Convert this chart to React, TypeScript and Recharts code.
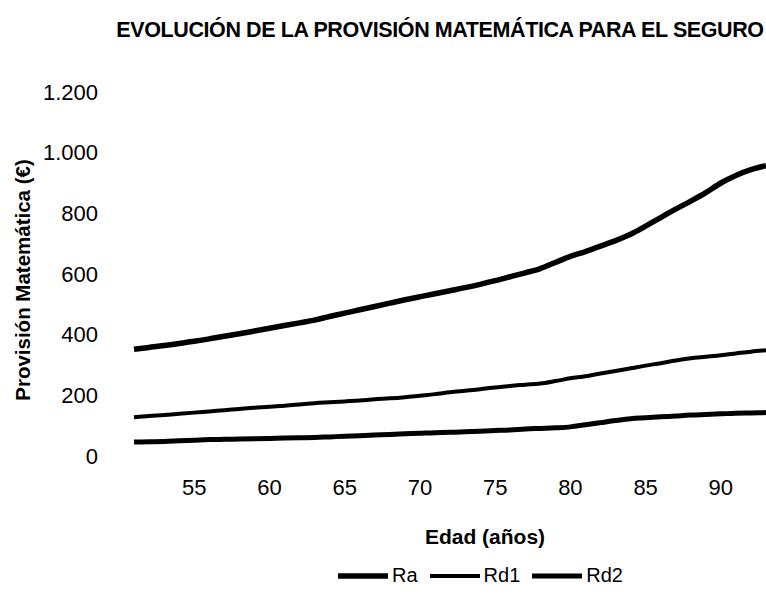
import React from "react";
import { LineChart, Line, XAxis, YAxis } from "recharts";

const edades = [
  51, 52, 53, 54, 55, 56, 57, 58, 59, 60, 61, 62, 63, 64, 65, 66, 67, 68, 69, 70, 71, 72,
  73, 74, 75, 76, 77, 78, 79, 80, 81, 82, 83, 84, 85, 86, 87, 88, 89, 90, 91, 92, 93,
];

const ra = [
  352, 358, 364, 371, 378, 386, 395, 403, 412, 421, 430, 439, 448, 460, 471, 482, 493, 504,
  515, 525, 535, 545, 555, 566, 578, 591, 604, 618, 638, 658, 674, 692, 710, 731, 758, 786,
  814, 840, 868, 900, 925, 944, 957,
];

const rd1 = [
  128, 132, 135, 139, 143, 147, 151, 155, 159, 162, 166, 170, 174, 177, 180, 183, 187, 190,
  194, 199, 204, 210, 215, 220, 226, 231, 235, 239, 247, 256, 263, 272, 280, 289, 298, 306,
  315, 322, 327, 332, 338, 344, 349,
];

const rd2 = [
  46, 47, 48, 50, 52, 54, 55, 56, 57, 58, 59, 60, 61, 63, 65, 67, 69, 71, 73, 75, 77, 78, 80,
  82, 84, 86, 89, 91, 93, 96, 103, 110, 117, 123, 126, 129, 132, 135, 137, 139, 141, 142, 143,
];

const ticksX = [55, 60, 65, 70, 75, 80, 85, 90];
const ticksY = [0, 200, 400, 600, 800, 1000, 1200];

const data = edades.map((edad, i) => ({ edad, Ra: ra[i], Rd1: rd1[i], Rd2: rd2[i] }));

const FONT = "'Liberation Sans', Arial, sans-serif";

const series = [
  { key: "Ra", width: 5.5 },
  { key: "Rd1", width: 4 },
  { key: "Rd2", width: 5 },
];

// separador de miles con punto
const formatMiles = (v: number) => String(v).replace(/\B(?=(\d{3})+(?!\d))/g, ".");

export default function App() {
  return (
    <div style={{ position: "absolute", left: 0, top: 0, width: 766, height: 608, background: "#fff" }}>
      <div
        style={{
          position: "absolute",
          left: 0,
          width: 766,
          top: 18,
          paddingLeft: 114,
          boxSizing: "border-box",
          textAlign: "center",
          fontFamily: FONT,
          fontWeight: "bold",
          fontSize: 21.5,
          letterSpacing: -0.4,
          whiteSpace: "nowrap",
        }}
      >
        EVOLUCIÓN DE LA PROVISIÓN MATEMÁTICA PARA EL SEGURO
      </div>
      <LineChart width={766} height={608} data={data} margin={{ top: 92, right: 0, bottom: 112, left: 0 }}>
        <XAxis
          dataKey="edad"
          type="number"
          domain={[51, 93]}
          ticks={ticksX}
          axisLine={false}
          tickLine={false}
          tickSize={0}
          tickMargin={23}
          height={40}
          tick={{ fill: "#000", fontSize: 22, fontFamily: FONT }}
          label={{
            content: ({ viewBox }: any) => (
              <text
                x={viewBox.x + viewBox.width / 2 + 35}
                y={viewBox.y + 88}
                textAnchor="middle"
                fontFamily={FONT}
                fontWeight="bold"
                fontSize={21}
                fill="#000"
              >
                Edad (años)
              </text>
            ),
          }}
        />
        <YAxis
          domain={[0, 1200]}
          ticks={ticksY}
          axisLine={false}
          tickLine={false}
          tickSize={0}
          tickMargin={36}
          width={134}
          tickFormatter={formatMiles}
          tick={{ fill: "#000", fontSize: 22, fontFamily: FONT }}
          label={{
            content: ({ viewBox }: any) => {
              const cx = viewBox.x + 22;
              const cy = viewBox.y + viewBox.height / 2 + 6;
              return (
                <text
                  x={cx}
                  y={cy}
                  transform={`rotate(-90 ${cx} ${cy})`}
                  textAnchor="middle"
                  dominantBaseline="central"
                  fontFamily={FONT}
                  fontWeight="bold"
                  fontSize={20.5}
                  fill="#000"
                >
                  Provisión Matemática (€)
                </text>
              );
            },
          }}
        />
        {series.map((s) => (
          <Line
            key={s.key}
            type="monotone"
            dataKey={s.key}
            stroke="#000"
            strokeWidth={s.width}
            dot={false}
            isAnimationActive={false}
          />
        ))}
      </LineChart>
      <div
        style={{
          position: "absolute",
          left: 338,
          top: 564,
          display: "flex",
          alignItems: "center",
          fontFamily: FONT,
          fontSize: 20,
        }}
      >
        {series.map((s) => (
          <div key={s.key} style={{ display: "flex", alignItems: "center", marginRight: 12 }}>
            <svg width={50} height={10} style={{ marginRight: 4 }}>
              <line x1={0} x2={50} y1={5} y2={5} stroke="#000" strokeWidth={s.width} />
            </svg>
            <span>{s.key}</span>
          </div>
        ))}
      </div>
    </div>
  );
}
